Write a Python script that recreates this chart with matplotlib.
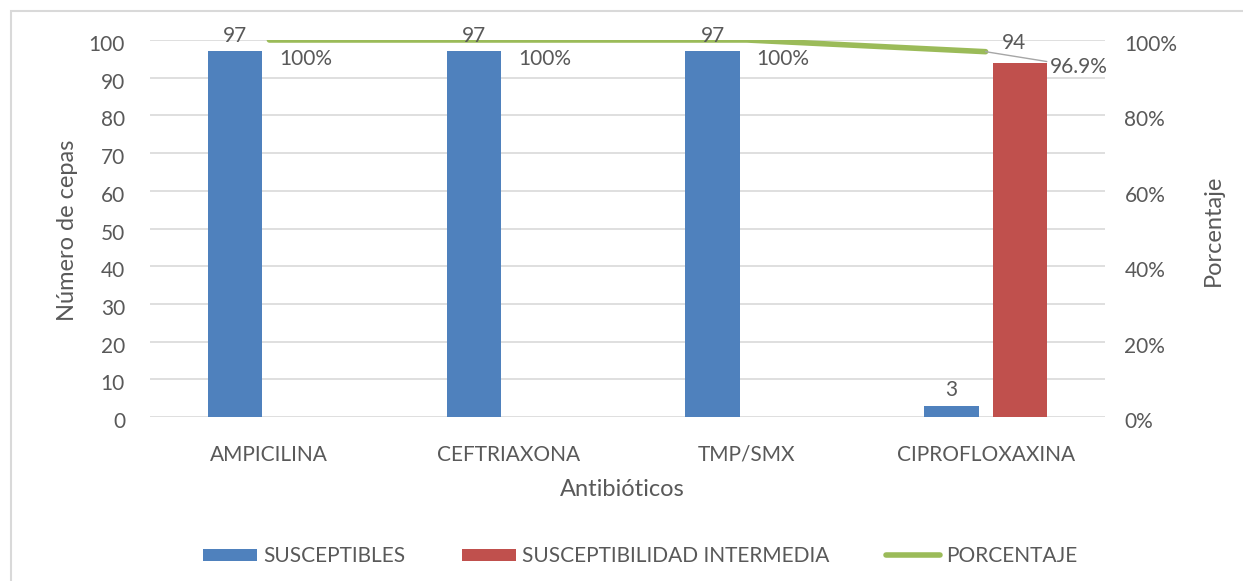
import matplotlib
matplotlib.use("Agg")
import matplotlib.pyplot as plt
from matplotlib.patches import Patch, Rectangle
from matplotlib.lines import Line2D
from matplotlib.ticker import FuncFormatter
import matplotlib.transforms as mtransforms
import numpy as np

plt.rcParams['font.family'] = ['Lato', 'DejaVu Sans']

antibioticos = ["AMPICILINA", "CEFTRIAXONA", "TMP/SMX", "CIPROFLOXAXINA"]
susceptibles = [97, 97, 97, 3]
intermedia = [0, 0, 0, 94]
porcentaje = [1.00, 1.00, 1.00, 0.969]
porcentaje_labels = ["100%", "100%", "100%", "96.9%"]

BLUE = "#4F81BD"
RED = "#C0504D"
GREEN = "#9BBB59"
TXT = "#595959"
GRID = "#D9D9D9"
FS = 15

W, H = 1243, 581
fig = plt.figure(figsize=(W / 100, H / 100), dpi=100)

# chart frame
fig.patches.append(Rectangle((11 / W, -0.1), 1.2, 1 - 11 / H + 0.1,
                             transform=fig.transFigure, fill=False,
                             edgecolor=GRID, linewidth=1.5))

left, right, bottom, top = 150, 1105, 417, 40
ax = fig.add_axes([left / W, 1 - bottom / H, (right - left) / W, (bottom - top) / H])
ax2 = ax.twinx()

x = np.arange(len(antibioticos))
bw = 0.228
off = 0.1435
ax.bar(x - off, susceptibles, bw, color=BLUE, zorder=3)
ax.bar(x + off, intermedia, bw, color=RED, zorder=3)

ax.set_xlim(-0.5, len(antibioticos) - 0.5)
ax.set_ylim(0, 100)
ax.set_yticks(np.arange(0, 101, 10))
ax.grid(axis='y', color=GRID, linewidth=1.2, zorder=0)
ax.set_axisbelow(True)
for s in ax.spines.values():
    s.set_visible(False)
for s in ax2.spines.values():
    s.set_visible(False)
ax.tick_params(axis='both', length=0, labelsize=FS, labelcolor=TXT)
ax.tick_params(axis='y', pad=18)
ax.tick_params(axis='x', pad=20)
ax.set_xticks(x)
ax.set_xticklabels(antibioticos)

ax2.set_ylim(0, 1)
ax2.set_yticks(np.arange(0, 1.01, 0.2))
ax2.yaxis.set_major_formatter(FuncFormatter(lambda v, p: f"{v * 100:.0f}%"))
ax2.tick_params(axis='y', length=0, labelsize=FS, labelcolor=TXT, pad=14)

# tick labels sit a little below their gridlines
shift = mtransforms.ScaledTranslation(0, -3 / 100, fig.dpi_scale_trans)
for tk in ax.yaxis.get_major_ticks() + ax2.yaxis.get_major_ticks():
    tk.label1.set_transform(tk.label1.get_transform() + shift)
    tk.label2.set_transform(tk.label2.get_transform() + shift)

ax2.plot(x, porcentaje, color=GREEN, linewidth=4, solid_capstyle='round', zorder=4)

# bar value labels (drawn on top of the line)
for xi, v in zip(x, susceptibles):
    if v > 0:
        ax2.annotate(str(v), (xi - off, v), xycoords=ax.transData,
                     xytext=(0, 4), textcoords='offset points',
                     ha='center', va='bottom', fontsize=FS, color=TXT, zorder=6)
for xi, v in zip(x, intermedia):
    if v > 0:
        ax2.annotate(str(v), (xi + off, v), xycoords=ax.transData,
                     xytext=(-4, 7), textcoords='offset points',
                     ha='center', va='bottom', fontsize=FS, color=TXT, zorder=6)

# percentage labels
for i, (xi, p, lab) in enumerate(zip(x, porcentaje, porcentaje_labels)):
    if i < len(x) - 1:
        ax2.annotate(lab, (xi, p), xytext=(7, -14), textcoords='offset points',
                     ha='left', va='center', fontsize=FS, color=TXT, zorder=6)
    else:
        ax2.annotate(lab, (xi, p), xytext=(46, -11), textcoords='offset points',
                     ha='left', va='center', fontsize=FS, color=TXT, zorder=6,
                     arrowprops=dict(arrowstyle='-', color='#A6A6A6', lw=1,
                                     shrinkA=0, shrinkB=0, relpos=(0, 0.75)))

# axis titles
fig.text(67 / W, 1 - 230 / H, "Número de cepas", rotation=90, ha='center', va='center',
         fontsize=FS + 2, color=TXT)
fig.text(1213 / W, 1 - 230 / H, "Porcentaje", rotation=90, ha='center', va='center',
         fontsize=FS + 2, color=TXT)
fig.text(622 / W, 1 - 490 / H, "Antibióticos", ha='center', va='center',
         fontsize=FS + 2, color=TXT)

handles = [Patch(facecolor=BLUE), Patch(facecolor=RED),
           Line2D([0], [0], color=GREEN, linewidth=4, solid_capstyle='round')]
labels = ["SUSCEPTIBLES", "SUSCEPTIBILIDAD INTERMEDIA", "PORCENTAJE"]
leg = fig.legend(handles, labels, ncol=3, loc='center',
                 bbox_to_anchor=(640 / W, 1 - 556 / H), frameon=False,
                 fontsize=FS, handlelength=2.6, handleheight=0.5,
                 handletextpad=0.3, columnspacing=2.7)
for t in leg.get_texts():
    t.set_color(TXT)

fig.savefig("out.png", dpi=100)
